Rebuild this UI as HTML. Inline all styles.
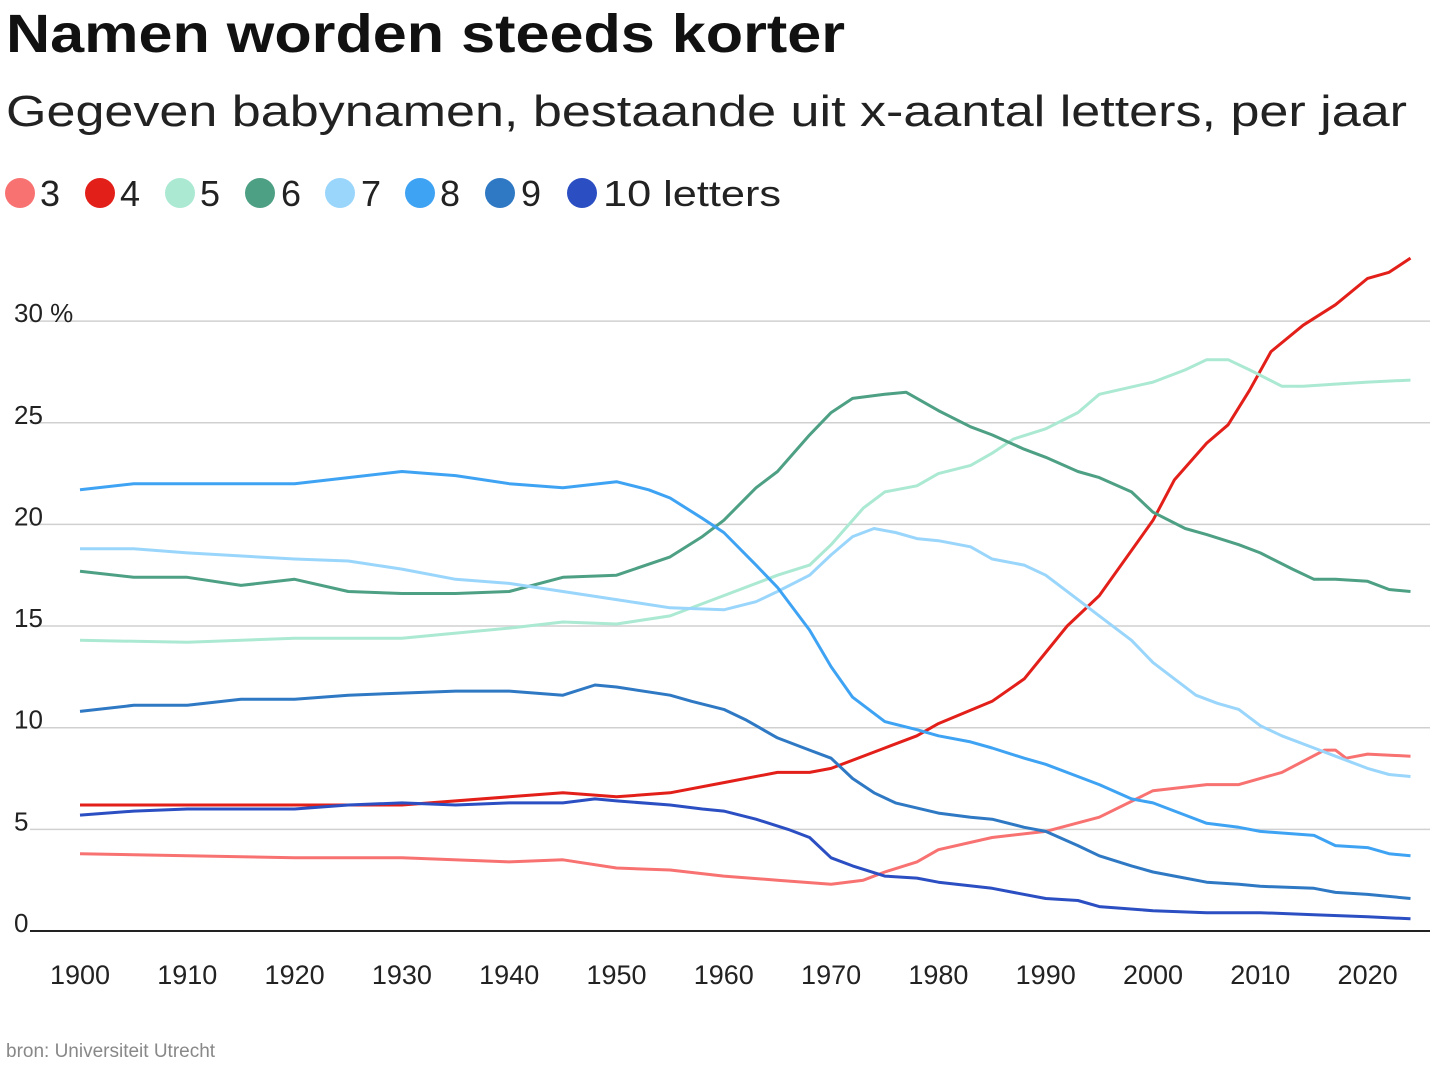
<!DOCTYPE html>
<html><head><meta charset="utf-8"><style>
body{margin:0;background:#fff;width:1441px;height:1081px;overflow:hidden;font-family:"Liberation Sans",sans-serif;color:#111}
</style></head><body>
<svg width="1441" height="1081" xmlns="http://www.w3.org/2000/svg" font-family="Liberation Sans, sans-serif">
<text x="6" y="52" font-size="54" font-weight="bold" fill="#111" textLength="839" lengthAdjust="spacingAndGlyphs">Namen worden steeds korter</text>
<text x="6" y="126" font-size="44" fill="#222" textLength="1401" lengthAdjust="spacingAndGlyphs">Gegeven babynamen, bestaande uit x-aantal letters, per jaar</text>
<g font-size="36" fill="#222">
<circle cx="20" cy="193" r="15" fill="#f87272"/><text x="40" y="206">3</text>
<circle cx="100" cy="193" r="15" fill="#e31f1a"/><text x="120" y="206">4</text>
<circle cx="180" cy="193" r="15" fill="#abe9d3"/><text x="200" y="206">5</text>
<circle cx="260" cy="193" r="15" fill="#4ea084"/><text x="281" y="206">6</text>
<circle cx="340" cy="193" r="15" fill="#9ad6fb"/><text x="361" y="206">7</text>
<circle cx="420" cy="193" r="15" fill="#3fa3f4"/><text x="440" y="206">8</text>
<circle cx="500" cy="193" r="15" fill="#2f79c4"/><text x="521" y="206">9</text>
<circle cx="582" cy="193" r="15" fill="#2b4fc3"/><text x="603" y="206" textLength="178" lengthAdjust="spacingAndGlyphs">10 letters</text>
</g>
<g id="grid" stroke="#d0d0d0" stroke-width="1.5"></g>
<line x1="30" y1="931" x2="1430" y2="931" stroke="#222" stroke-width="2"/>
<g font-size="26" fill="#222" id="ylab"></g>
<g font-size="27" fill="#222" text-anchor="middle" id="xlab"></g>
<g id="lines" fill="none" stroke-width="3" stroke-linejoin="round"></g>
<text x="6" y="1057" font-size="19" fill="#888">bron: Universiteit Utrecht</text>
</svg>
<script>
var ns="http://www.w3.org/2000/svg";
function Y(v){return 931-v*20.33}function X(y){return 80+(y-1900)*10.73}
var g=document.getElementById('grid'),yl=document.getElementById('ylab'),xl=document.getElementById('xlab');
[5,10,15,20,25,30].forEach(function(v){var l=document.createElementNS(ns,'line');l.setAttribute('x1',30);l.setAttribute('x2',1430);l.setAttribute('y1',Y(v));l.setAttribute('y2',Y(v));g.appendChild(l);});
[0,5,10,15,20,25,30].forEach(function(v){var t=document.createElementNS(ns,'text');t.setAttribute('x',14);t.setAttribute('y',Y(v)+1);t.textContent=v==30?'30 %':v;yl.appendChild(t);});
for(var y=1900;y<=2020;y+=10){var t=document.createElementNS(ns,'text');t.setAttribute('x',X(y));t.setAttribute('y',984);t.textContent=y;xl.appendChild(t);}
var S=[
['#f87272',[1900,3.8,1910,3.7,1920,3.6,1930,3.6,1940,3.4,1945,3.5,1950,3.1,1955,3.0,1960,2.7,1965,2.5,1970,2.3,1973,2.5,1975,2.9,1978,3.4,1980,4.0,1985,4.6,1990,4.9,1995,5.6,2000,6.9,2005,7.2,2008,7.2,2012,7.8,2016,8.9,2017,8.9,2018,8.5,2020,8.7,2024,8.6]],
['#e31f1a',[1900,6.2,1920,6.2,1930,6.2,1940,6.6,1945,6.8,1950,6.6,1955,6.8,1960,7.3,1965,7.8,1968,7.8,1970,8.0,1975,9.0,1978,9.6,1980,10.2,1985,11.3,1988,12.4,1990,13.7,1992,15.0,1995,16.5,2000,20.2,2002,22.2,2005,24.0,2007,24.9,2009,26.6,2011,28.5,2014,29.8,2017,30.8,2020,32.1,2022,32.4,2024,33.1]],
['#abe9d3',[1900,14.3,1910,14.2,1920,14.4,1930,14.4,1940,14.9,1945,15.2,1950,15.1,1955,15.5,1960,16.5,1965,17.5,1968,18.0,1970,19.0,1973,20.8,1975,21.6,1978,21.9,1980,22.5,1983,22.9,1985,23.5,1987,24.2,1990,24.7,1993,25.5,1995,26.4,2000,27.0,2003,27.6,2005,28.1,2007,28.1,2009,27.6,2012,26.8,2014,26.8,2017,26.9,2020,27.0,2024,27.1]],
['#4ea084',[1900,17.7,1905,17.4,1910,17.4,1915,17.0,1920,17.3,1925,16.7,1930,16.6,1935,16.6,1940,16.7,1945,17.4,1950,17.5,1955,18.4,1958,19.4,1960,20.2,1963,21.8,1965,22.6,1968,24.4,1970,25.5,1972,26.2,1975,26.4,1977,26.5,1980,25.6,1983,24.8,1985,24.4,1988,23.7,1990,23.3,1993,22.6,1995,22.3,1998,21.6,2000,20.6,2003,19.8,2005,19.5,2008,19.0,2010,18.6,2013,17.8,2015,17.3,2017,17.3,2020,17.2,2022,16.8,2024,16.7]],
['#9ad6fb',[1900,18.8,1905,18.8,1910,18.6,1920,18.3,1925,18.2,1930,17.8,1935,17.3,1940,17.1,1945,16.7,1950,16.3,1955,15.9,1960,15.8,1963,16.2,1965,16.7,1968,17.5,1970,18.5,1972,19.4,1974,19.8,1976,19.6,1978,19.3,1980,19.2,1983,18.9,1985,18.3,1988,18.0,1990,17.5,1993,16.3,1995,15.5,1998,14.3,2000,13.2,2002,12.4,2004,11.6,2006,11.2,2008,10.9,2010,10.1,2012,9.6,2015,9.0,2017,8.6,2020,8.0,2022,7.7,2024,7.6]],
['#3fa3f4',[1900,21.7,1905,22.0,1910,22.0,1920,22.0,1925,22.3,1930,22.6,1935,22.4,1940,22.0,1945,21.8,1950,22.1,1953,21.7,1955,21.3,1958,20.3,1960,19.6,1963,18.0,1965,16.9,1968,14.8,1970,13.0,1972,11.5,1975,10.3,1978,9.9,1980,9.6,1983,9.3,1985,9.0,1988,8.5,1990,8.2,1993,7.6,1995,7.2,1998,6.5,2000,6.3,2003,5.7,2005,5.3,2008,5.1,2010,4.9,2015,4.7,2017,4.2,2020,4.1,2022,3.8,2024,3.7]],
['#2f79c4',[1900,10.8,1905,11.1,1910,11.1,1915,11.4,1920,11.4,1925,11.6,1930,11.7,1935,11.8,1940,11.8,1945,11.6,1948,12.1,1950,12.0,1955,11.6,1957,11.3,1960,10.9,1962,10.4,1965,9.5,1968,8.9,1970,8.5,1972,7.5,1974,6.8,1976,6.3,1980,5.8,1983,5.6,1985,5.5,1988,5.1,1990,4.9,1993,4.2,1995,3.7,1998,3.2,2000,2.9,2003,2.6,2005,2.4,2008,2.3,2010,2.2,2015,2.1,2017,1.9,2020,1.8,2024,1.6]],
['#2b4fc3',[1900,5.7,1905,5.9,1910,6.0,1915,6.0,1920,6.0,1925,6.2,1930,6.3,1935,6.2,1940,6.3,1945,6.3,1948,6.5,1950,6.4,1955,6.2,1958,6.0,1960,5.9,1963,5.5,1966,5.0,1968,4.6,1970,3.6,1972,3.2,1975,2.7,1978,2.6,1980,2.4,1985,2.1,1990,1.6,1993,1.5,1995,1.2,2000,1.0,2005,0.9,2010,0.9,2015,0.8,2020,0.7,2024,0.6]]];
var L=document.getElementById('lines');
S.forEach(function(s){var d=s[1],p=[];for(var i=0;i<d.length;i+=2)p.push(X(d[i]).toFixed(1)+','+Y(d[i+1]).toFixed(1));var pl=document.createElementNS(ns,'polyline');pl.setAttribute('points',p.join(' '));pl.setAttribute('stroke',s[0]);L.appendChild(pl);});
</script>
</body></html>
